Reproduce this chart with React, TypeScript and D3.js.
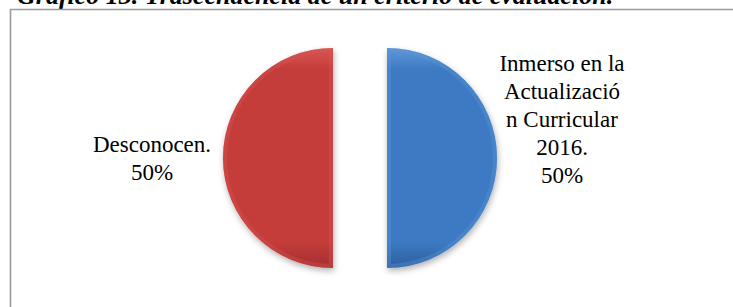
import React from "react";
import * as d3 from "d3";

const categories = ["Inmerso en la Actualización Curricular 2016.", "Desconocen."];
const values = [50, 50];
const percentLabels = ["50%", "50%"];
const labelLines = [
  ["Inmerso en la", "Actualizació", "n Curricular", "2016."],
  ["Desconocen."],
];
const colors = ["#3C7AC3", "#C43C3B"];
const lightColors = ["#5F97D6", "#D85553"];
const darkColors = ["#2C5F9F", "#A32F2E"];
const titleText = "Gráfico 13. Trascendencia de un criterio de evaluación.";

const W = 733;
const H = 307;
const cx = 360;
const cy = 158;
const R = 110;
const explode = 27;

export default function App() {
  const pie = d3.pie<number>().sort(null).value((d) => d)(values);
  const arc = d3.arc<d3.PieArcDatum<number>>().innerRadius(0).outerRadius(R);
  const labelPos = [
    { x: 562, y: 71 },
    { x: 152, y: 152 },
  ];
  const lh = 28;
  return (
    <svg
      width={W}
      height={H}
      style={{ position: "absolute", left: 0, top: 0, background: "#fff" }}
      fontFamily="'Liberation Serif', 'Times New Roman', serif"
    >
      <defs>
        <filter id="sh" x="-30%" y="-30%" width="160%" height="160%">
          <feDropShadow dx="1" dy="3" stdDeviation="3" floodColor="#000" floodOpacity="0.3" />
        </filter>
        {colors.map((c, i) => (
          <linearGradient key={i} id={`g${i}`} x1="0" y1="0" x2="0" y2="1">
            <stop offset="0" stopColor={lightColors[i]} />
            <stop offset="0.1" stopColor={c} />
            <stop offset="0.88" stopColor={c} />
            <stop offset="1" stopColor={darkColors[i]} />
          </linearGradient>
        ))}
        {pie.map((p, i) => (
          <clipPath key={i} id={`c${i}`}>
            <path d={arc(p) || ""} />
          </clipPath>
        ))}
      </defs>
      <text x={17} y={4} fontSize={26} fontWeight="bold" fontStyle="italic" fill="#000">
        {titleText}
      </text>
      <path d={`M10.5,${H + 10} L10.5,9.5 L${W + 10},9.5`} fill="none" stroke="#9a9a9a" strokeWidth={1.6} />
      {pie.map((p, i) => {
        const mid = (p.startAngle + p.endAngle) / 2;
        const dx = Math.sin(mid) * explode;
        const dy = -Math.cos(mid) * explode;
        const d = arc(p) || "";
        return (
          <g key={i} transform={`translate(${cx + dx},${cy + dy})`}>
            <path d={d} fill={`url(#g${i})`} filter="url(#sh)" />
            <g clipPath={`url(#c${i})`}>
              <path d={d} fill="none" stroke={lightColors[i]} strokeWidth={8} strokeOpacity={0.35} />
            </g>
          </g>
        );
      })}
      {categories.map((c, i) => {
        const lines = [...labelLines[i], percentLabels[i]];
        return (
          <text key={c} x={labelPos[i].x} y={labelPos[i].y} fontSize={23} textAnchor="middle" fill="#000">
            {lines.map((l, j) => (
              <tspan key={j} x={labelPos[i].x} y={labelPos[i].y + j * lh}>
                {l}
              </tspan>
            ))}
          </text>
        );
      })}
    </svg>
  );
}
